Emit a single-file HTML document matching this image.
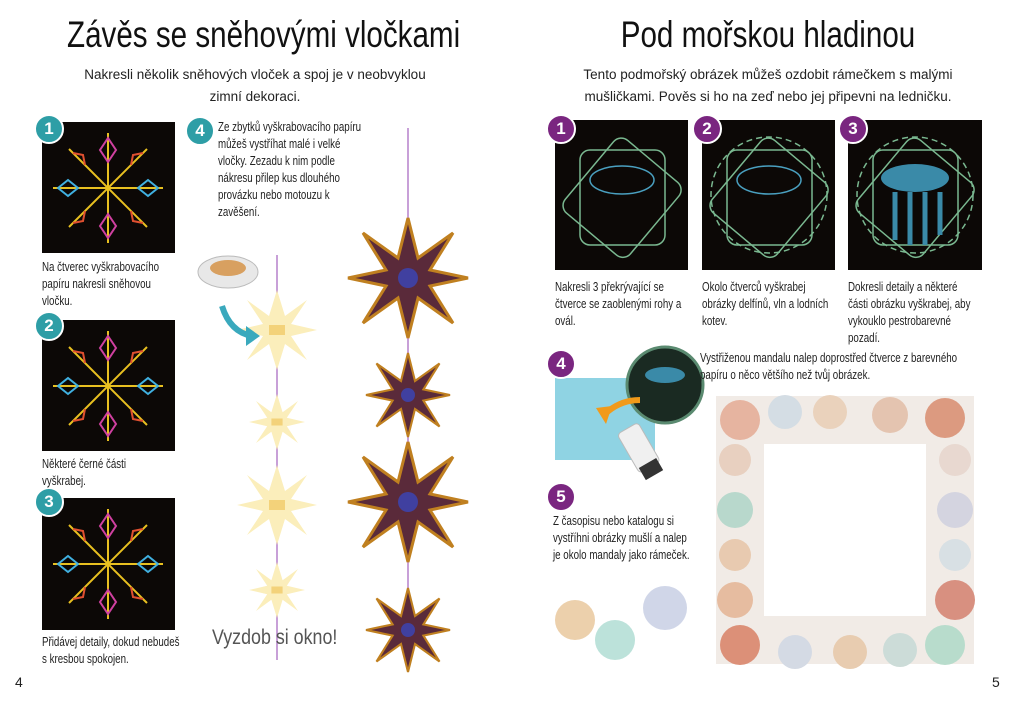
<!DOCTYPE html>
<html><head><meta charset="utf-8"><style>
body{margin:0;width:1024px;height:708px;background:#fff;position:relative;overflow:hidden;font-family:"Liberation Sans",sans-serif;color:#222}
.a{position:absolute}
.t{font-size:37px;color:#111;white-space:nowrap;transform:scaleX(.8);transform-origin:center top}
.s{font-size:13.5px;line-height:22px;text-align:center}
.c{font-size:13px;line-height:17px;transform:scaleX(.75);transform-origin:left top}
.bt{width:26px;height:26px;border-radius:50%;color:#fff;font-size:17px;font-weight:bold;text-align:center;line-height:26px;border:2px solid #fff}
.tl{background:#2e9ea6}.pu{background:#7a2680}
</style></head><body>
<div class="a t" style="left:20px;top:14px;width:470px;text-align:center">Závěs se sněhovými vločkami</div>
<div class="a s" style="left:60px;top:64px;width:390px">Nakresli několik sněhových vloček a spoj je v neobvyklou<br>zimní dekoraci.</div>
<div class="a t" style="left:540px;top:14px;width:456px;text-align:center">Pod mořskou hladinou</div>
<div class="a s" style="left:560px;top:64px;width:416px">Tento podmořský obrázek můžeš ozdobit rámečkem s malými<br>mušličkami. Pověs si ho na zeď nebo jej připevni na ledničku.</div>

<svg class="a" style="left:0;top:0" width="1024" height="708">
<defs><g id="sf"><g stroke-width="2" fill="none">
<path d="M0-55L0 55M-55 0L55 0M-39-39L39 39M-39 39L39-39" stroke="#e8c020"/>
<path d="M0-50l-8 12 8 12 8-12z M0 50l-8-12 8-12 8 12z" stroke="#d040a0"/>
<path d="M-50 0l10-8 10 8-10 8z M50 0l-10-8-10 8 10 8z" stroke="#40b0e0"/>
<path d="M-35-35l10 2 2 10 M35 35l-10-2-2-10 M-35 35l10-2 2-10 M35-35l-10 2-2 10" stroke="#e05030"/>
</g></g>
<g id="ds"><polygon points="0,-60 10,-20 45,-45 22,-8 60,0 22,8 45,45 10,20 0,60 -10,20 -45,45 -22,8 -60,0 -22,-8 -45,-45 -10,-20" fill="#5a2a3a" stroke="#c08020" stroke-width="3"/><circle r="10" fill="#4040a0"/></g>
<g id="ps"><polygon points="0,-40 8,-14 30,-30 14,-6 40,0 14,6 30,30 8,14 0,40 -8,14 -30,30 -14,6 -40,0 -14,-6 -30,-30 -8,-14" fill="#fbeebb"/><rect x="-8" y="-5" width="16" height="10" fill="#f3d27a"/></g>
</defs>
<rect x="42" y="122" width="133" height="131" fill="#0c0806"/><use href="#sf" transform="translate(108,188)"/>
<rect x="42" y="320" width="133" height="131" fill="#0c0806"/><use href="#sf" transform="translate(108,386)"/>
<rect x="42" y="498" width="133" height="132" fill="#0c0806"/><use href="#sf" transform="translate(108,564)"/>
<line x1="277" y1="255" x2="277" y2="660" stroke="#c8a0d8" stroke-width="2"/>
<line x1="408" y1="128" x2="408" y2="665" stroke="#c8a0d8" stroke-width="2"/>
<use href="#ps" transform="translate(277,330)"/>
<use href="#ps" transform="translate(277,422) scale(.7)"/>
<use href="#ps" transform="translate(277,505)"/>
<use href="#ps" transform="translate(277,590) scale(.7)"/>
<use href="#ds" transform="translate(408,278)"/>
<use href="#ds" transform="translate(408,395) scale(.7)"/>
<use href="#ds" transform="translate(408,502)"/>
<use href="#ds" transform="translate(408,630) scale(.7)"/>
<ellipse cx="228" cy="272" rx="30" ry="16" fill="#e8e8e8" stroke="#bbb"/><ellipse cx="228" cy="268" rx="18" ry="8" fill="#d8a060"/>
<path d="M222 306q8 26 30 30" stroke="#3aa9bd" stroke-width="6" fill="none"/><polygon points="246,326 260,336 246,346" fill="#3aa9bd"/>
<rect x="555" y="120" width="133" height="150" fill="#0c0806"/>
<rect x="702" y="120" width="133" height="150" fill="#0c0806"/>
<rect x="848" y="120" width="134" height="150" fill="#0c0806"/>
<g fill="none" stroke="#7ab890" stroke-width="1.5">
<rect x="580" y="150" width="85" height="95" rx="10"/><rect x="580" y="150" width="85" height="95" rx="10" transform="rotate(40 622 197)"/><ellipse cx="622" cy="180" rx="32" ry="14" stroke="#4aa0c0"/>
<rect x="727" y="150" width="85" height="95" rx="10"/><rect x="727" y="150" width="85" height="95" rx="10" transform="rotate(40 769 197)"/><ellipse cx="769" cy="180" rx="32" ry="14" stroke="#4aa0c0"/><circle cx="769" cy="195" r="58" stroke-dasharray="6 4"/>
<rect x="873" y="150" width="85" height="95" rx="10"/><rect x="873" y="150" width="85" height="95" rx="10" transform="rotate(40 915 197)"/><circle cx="915" cy="195" r="58" stroke-dasharray="6 4"/>
</g>
<ellipse cx="915" cy="178" rx="34" ry="14" fill="#3a8aa8"/><g stroke="#3a8aa8" stroke-width="5"><line x1="895" y1="192" x2="895" y2="240"/><line x1="910" y1="192" x2="910" y2="245"/><line x1="925" y1="192" x2="925" y2="245"/><line x1="940" y1="192" x2="940" y2="235"/></g>
<rect x="555" y="378" width="100" height="82" fill="#8fd3e3"/>
<circle cx="665" cy="385" r="38" fill="#1a2a22" stroke="#5a8a70" stroke-width="3"/><ellipse cx="665" cy="375" rx="20" ry="8" fill="#3a8aa8"/>
<path d="M640 400q-20 0-35 14" stroke="#f19a1a" stroke-width="6" fill="none"/><polygon points="596,408 606,424 612,406" fill="#f19a1a"/>
<g transform="rotate(-30 640 450)"><rect x="628" y="425" width="24" height="45" rx="4" fill="#f0f0f0" stroke="#bbb"/><rect x="630" y="465" width="20" height="14" fill="#333"/></g>
<rect x="740" y="420" width="210" height="220" fill="none" stroke="#f1ebe6" stroke-width="48"/>
<g>
<circle cx="740" cy="420" r="20" fill="#e6b4a0"/><circle cx="785" cy="412" r="17" fill="#d4dde4"/><circle cx="830" cy="412" r="17" fill="#ead2bc"/><circle cx="890" cy="415" r="18" fill="#e4c4b0"/><circle cx="945" cy="418" r="20" fill="#dc9a80"/>
<circle cx="735" cy="460" r="16" fill="#e8d0c0"/><circle cx="955" cy="460" r="16" fill="#e8d8d0"/>
<circle cx="735" cy="510" r="18" fill="#b8d8cc"/><circle cx="955" cy="510" r="18" fill="#d4d4e0"/>
<circle cx="735" cy="555" r="16" fill="#e8cab0"/><circle cx="955" cy="555" r="16" fill="#d8e0e4"/>
<circle cx="735" cy="600" r="18" fill="#e6bca0"/><circle cx="955" cy="600" r="20" fill="#d89080"/>
<circle cx="740" cy="645" r="20" fill="#dc9078"/><circle cx="795" cy="652" r="17" fill="#d4dae4"/><circle cx="850" cy="652" r="17" fill="#e8ccb0"/><circle cx="900" cy="650" r="17" fill="#ccdcd8"/><circle cx="945" cy="645" r="20" fill="#b8dccc"/>
<circle cx="575" cy="620" r="20" fill="#ecd0ac"/><circle cx="615" cy="640" r="20" fill="#bce2da"/><circle cx="665" cy="608" r="22" fill="#d0d6e8"/>
</g>
</svg>
<div class="a bt tl" style="left:34px;top:114px">1</div>
<div class="a bt tl" style="left:34px;top:311px">2</div>
<div class="a bt tl" style="left:34px;top:487px">3</div>
<div class="a bt tl" style="left:185px;top:116px">4</div>
<div class="a c" style="left:42px;top:258px;width:182px">Na čtverec vyškrabovacího papíru nakresli sněhovou vločku.</div>
<div class="a c" style="left:42px;top:455px;width:150px">Některé černé části vyškrabej.</div>
<div class="a c" style="left:42px;top:633px;width:190px">Přidávej detaily, dokud nebudeš s kresbou spokojen.</div>
<div class="a c" style="left:218px;top:118px;width:205px">Ze zbytků vyškrabovacího papíru můžeš vystříhat malé i velké vločky. Zezadu k nim podle nákresu přilep kus dlouhého provázku nebo motouzu k zavěšení.</div>
<div class="a" style="left:212px;top:626px;font-size:21px;color:#555;transform:scaleX(.85);transform-origin:left top;white-space:nowrap">Vyzdob si okno!</div>
<div class="a" style="left:15px;top:674px;font-size:14px">4</div>
<div class="a" style="left:992px;top:674px;font-size:14px">5</div>
<div class="a bt pu" style="left:546px;top:114px">1</div>
<div class="a bt pu" style="left:692px;top:114px">2</div>
<div class="a bt pu" style="left:838px;top:114px">3</div>
<div class="a bt pu" style="left:546px;top:349px">4</div>
<div class="a bt pu" style="left:546px;top:482px">5</div>
<div class="a c" style="left:555px;top:278px;width:182px">Nakresli 3 překrývající se čtverce se zaoblenými rohy a ovál.</div>
<div class="a c" style="left:702px;top:278px;width:175px">Okolo čtverců vyškrabej obrázky delfínů, vln a lodních kotev.</div>
<div class="a c" style="left:848px;top:278px;width:165px">Dokresli detaily a některé části obrázku vyškrabej, aby vykouklo pestrobarevné pozadí.</div>
<div class="a c" style="left:700px;top:349px;width:365px">Vystřiženou mandalu nalep doprostřed čtverce z barevného papíru o něco většího než tvůj obrázek.</div>
<div class="a c" style="left:553px;top:512px;width:190px">Z časopisu nebo katalogu si vystříhni obrázky mušlí a nalep je okolo mandaly jako rámeček.</div>
</body></html>
